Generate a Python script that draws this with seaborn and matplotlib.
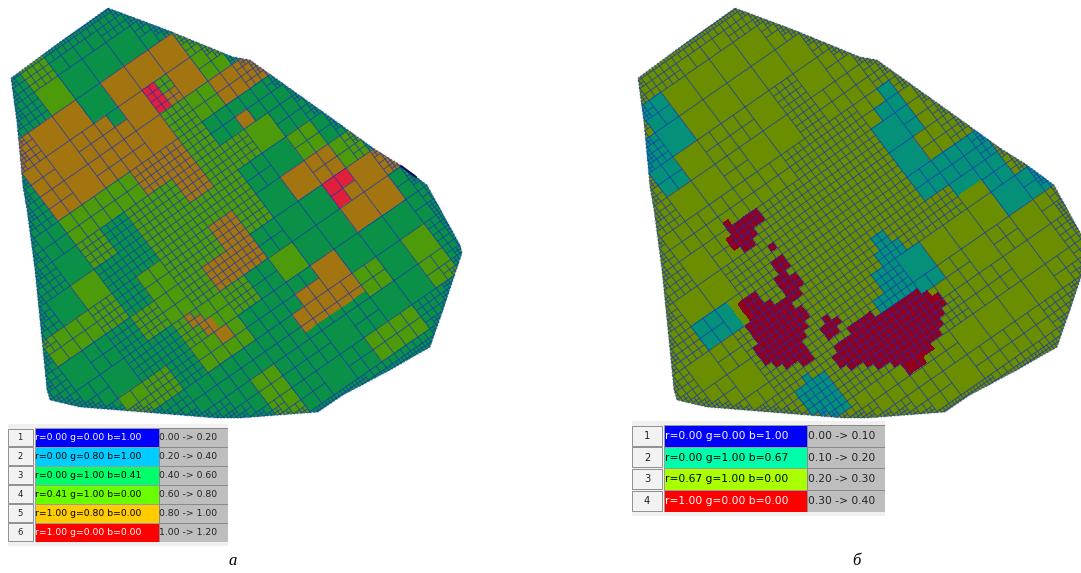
import numpy as np
import pandas as pd
import seaborn as sns
import matplotlib
matplotlib.use('Agg')
import matplotlib.pyplot as plt
from matplotlib.collections import LineCollection
from matplotlib.colors import ListedColormap
from matplotlib.patches import Polygon, Rectangle
from matplotlib.path import Path
from matplotlib.transforms import Affine2D

# Outline of the model area, picture pixels of the left panel
outline_x = [11, 60, 108, 167, 233, 250, 330, 373, 400, 427, 460, 462, 443, 430, 390, 343, 318, 240, 217, 80, 50, 47, 35, 27, 23, 17]
outline_y = [78, 42, 8, 30, 57, 60, 117, 148, 165, 185, 245, 253, 310, 347, 370, 395, 412, 418, 418, 407, 400, 390, 270, 210, 187, 123]
panel_shift = 627

# Root cells: columns run a = -8..6, rows b = -2..13, digit = legend class
classes_a = ["333333433333333", "333333433333333", "333355535554333", "333355555554333",
             "333355555445533", "333344455433333", "333343445444333", "333433444433433",
             "344434445435543", "333344455333555", "333334443433553", "334434433353333",
             "333333333334343", "333333433333343", "333333433344333", "333333333333333"]
classes_b = ["333333333333333", "333332333333333", "333322333333333", "333323333333333",
             "333333333333333", "333333333333333", "333333333332333", "333333333332333",
             "332333333332223", "333333333333323", "333333333233322", "333333332333333",
             "333333333333333", "333333333333333", "333333333333333", "333333333333333"]

# Root cells again, digit = how many times the cell is halved
depth_a = ["000002211200000", "000022000012000", "000220000002200", "000210110201200",
           "000210110211220", "002111122211120", "002022222220120", "020022222210112",
           "011221222200112", "201221222100102", "200222121000001", "021221111100001",
           "002211111111002", "000221111010012", "000022110111220", "000002222222000"]
depth_b = ["000002211200000", "000021000012000", "000220000001200", "000210110201200",
           "000200100211220", "002111112221120", "002012222220120", "020022222220120",
           "021022222221110", "201222222222012", "200222222000001", "021222222110101",
           "002222222211002", "000221111000012", "000022110111220", "000002222222000"]

# Patches on the quarter-cell grid: (row, first column, last column, class)
patches_a = [(4, 4, 5, 6), (5, 4, 5, 6), (6, 4, 5, 6), (7, 4, 5, 6), (4, 6, 7, 4), (5, 6, 7, 4),
             (4, -2, -1, 3), (5, -2, -1, 3),
             (28, 16, 19, 6), (29, 16, 19, 6), (30, 16, 17, 6), (31, 16, 17, 6),
             (32, -10, -10, 5), (33, -10, -9, 5), (34, -9, -8, 5), (35, -9, -8, 5), (36, -8, -7, 5), (37, -8, -7, 5),
             (14, 12, 13, 5), (15, 12, 13, 5),
             (38, 4, 7, 5), (39, 4, 7, 5), (40, 2, 11, 5), (41, 2, 11, 5), (42, 2, 11, 5)]
patches_b = [(14, 14, 15, 2), (15, 14, 15, 2), (12, 16, 17, 2), (13, 16, 17, 2), (14, 16, 17, 2), (15, 16, 17, 2),
             (16, 16, 17, 2), (17, 16, 17, 2), (18, 16, 17, 2), (19, 16, 17, 2),
             (28, 16, 19, 2), (29, 16, 19, 2), (36, 4, 7, 2), (37, 4, 7, 2),
             (32, 0, 3, 2), (33, 0, 3, 2), (34, 0, 3, 2), (35, 0, 3, 2),
             (30, 2, 5, 2), (31, 2, 5, 2), (28, 3, 4, 2), (29, 3, 4, 2),
             (35, -2, -1, 2), (36, -2, 0, 2),
             (24, -20, -19, 2), (25, -20, -19, 2), (26, -20, -19, 2), (27, -20, -19, 2),
             (38, -16, -16, 2), (39, -18, -14, 2), (40, -18, -14, 2), (41, -18, -14, 2), (42, -18, -14, 2), (43, -17, -14, 2), (44, -16, -14, 2),
             # dark red spots
             (15, -12, -12, 4), (16, -12, -8, 4), (17, -13, -8, 4), (18, -13, -10, 4), (19, -12, -11, 4),
             (21, -9, -9, 4),
             (23, -10, -9, 4), (24, -10, -9, 4), (25, -11, -10, 4), (26, -11, -9, 4), (27, -11, -9, 4), (28, -12, -10, 4),
             (25, -17, -15, 4), (26, -17, -15, 4), (27, -17, -14, 4), (28, -18, -13, 4), (29, -18, -12, 4), (30, -18, -11, 4),
             (31, -19, -11, 4), (32, -19, -12, 4), (33, -19, -13, 4), (34, -18, -14, 4), (35, -17, -14, 4), (36, -15, -14, 4),
             (33, -9, -9, 4), (34, -10, -8, 4), (35, -10, -9, 4),
             (36, -7, -4, 4), (37, -10, 3, 4), (38, -11, 4, 4), (39, -11, 5, 4), (40, -10, 5, 4), (41, -8, 4, 4),
             (42, -7, 3, 4), (43, -5, 2, 4), (44, -4, 0, 4), (45, -4, -2, 4)]

# Mesh colours as they show in the two panels, indexed by legend class
palette_a = ['#0b9147', '#0b9147', '#0b9147', '#0b9147', '#4d9a0b', '#a37510', '#e0203a']
palette_b = ['#6b8e00', '#6b8e00', '#05907a', '#6b8e00', '#900020']

# Legend tables
legend_a = ["r=0.00 g=0.00 b=1.00", "r=0.00 g=0.80 b=1.00", "r=0.00 g=1.00 b=0.41",
            "r=0.41 g=1.00 b=0.00", "r=1.00 g=0.80 b=0.00", "r=1.00 g=0.00 b=0.00"]
ranges_a = ["0.00 -> 0.20", "0.20 -> 0.40", "0.40 -> 0.60", "0.60 -> 0.80", "0.80 -> 1.00", "1.00 -> 1.20"]
swatch_a = ['#0000ff', '#00ccff', '#00ff69', '#69ff00', '#ffcc00', '#ff0000']
legend_b = ["r=0.00 g=0.00 b=1.00", "r=0.00 g=1.00 b=0.67", "r=0.67 g=1.00 b=0.00", "r=1.00 g=0.00 b=0.00"]
ranges_b = ["0.00 -> 0.10", "0.10 -> 0.20", "0.20 -> 0.30", "0.30 -> 0.40"]
swatch_b = ['#0000ff', '#00ffaa', '#aaff00', '#ff0000']

W, H = 1081, 573
# Grid vectors of one root cell in pixels, the picture is a bit stretched
ux, uy = 24.0, -16.6
vx, vy = 18.0, 24.0
ox, oy = 100.0, 83.0
a_min, b_min = -8, -2

sns.set_theme(style='white')
fig = plt.figure(figsize=(W / 100, H / 100), dpi=100)
ax = fig.add_axes([0, 0, 1, 1])


def fine_matrix(classes, patches):
    # Expand root cells to the quarter-cell grid and lay the patches over them
    mat = np.repeat(np.repeat(np.array([[int(c) for c in row] for row in classes]), 4, axis=0), 4, axis=1)
    for row, first, last, cat in patches:
        mat[row - b_min * 4, first - a_min * 4:last - a_min * 4 + 1] = cat
    return mat


def outline_dist(px, py, xs, ys):
    x0, y0 = np.array(xs), np.array(ys)
    x1, y1 = np.roll(x0, -1), np.roll(y0, -1)
    dx, dy = x1 - x0, y1 - y0
    t = np.clip(((px - x0) * dx + (py - y0) * dy) / (dx * dx + dy * dy), 0, 1)
    return np.hypot(x0 + t * dx - px, y0 + t * dy - py).min()


def mesh_lines(depth, xs, ys, shift):
    # Walk the quadtree, cells get smaller towards the outline of the area
    path = Path(np.column_stack([xs, ys]))
    segs = []

    def corner(a, b):
        return (ox + shift + a * ux + b * vx, oy + a * uy + b * vy)

    def visit(a, b, size, level, want):
        cx, cy = corner(a + size / 2, b + size / 2)
        dist = outline_dist(cx, cy, xs, ys)
        px_size = 29.6 * size
        inside = path.contains_point((cx, cy))
        if not inside and dist > px_size * 0.8:
            return
        if level < want or (dist < px_size * 0.62 and level < 3):
            half = size / 2
            for da in (0, half):
                for db in (0, half):
                    visit(a + da, b + db, half, level + 1, want)
            return
        p = [corner(a, b), corner(a + size, b), corner(a + size, b + size), corner(a, b + size)]
        segs.append([p[0], p[1], p[2], p[3], p[0]])

    for r, row in enumerate(depth):
        for c, d in enumerate(row):
            visit(a_min + c, b_min + r, 1.0, 0, int(d))
    return segs


def draw_panel(classes, patches, palette, depth, shift):
    xs = [x + shift for x in outline_x]
    ys = outline_y
    clip = Polygon(np.column_stack([xs, ys]), closed=True, transform=ax.transData)
    mat = fine_matrix(classes, patches)
    frame = pd.DataFrame(mat)
    sns.heatmap(frame, ax=ax, cmap=ListedColormap(palette), vmin=-0.5, vmax=len(palette) - 0.5,
                cbar=False, xticklabels=False, yticklabels=False)
    mesh = ax.collections[-1]
    x0 = ox + shift + a_min * ux + b_min * vx
    y0 = oy + a_min * uy + b_min * vy
    grid = Affine2D(np.array([[ux / 4, vx / 4, x0], [uy / 4, vy / 4, y0], [0, 0, 1]]))
    mesh.set_transform(grid + ax.transData)
    mesh.set_clip_path(clip)
    lines = LineCollection(mesh_lines(depth, xs, ys, shift), colors=[(0.08, 0.2, 0.72, 0.5)], linewidths=0.55)
    ax.add_collection(lines)
    lines.set_clip_path(clip)
    ax.plot(xs + xs[:1], ys + ys[:1], color=(0.1, 0.15, 0.75, 0.35), lw=1.2, ls=(0, (1, 1)))


def px_axes(x0, y0, x1, y1):
    return fig.add_axes([x0 / W, 1 - y1 / H, (x1 - x0) / W, (y1 - y0) / H])


def draw_table(labels, ranges, swatch, x_btn, x_col, x_grey, x_end, y_top, y_end, strip, fsize):
    n = len(labels)
    # Light grey grid background of the screenshot
    ax.add_patch(Rectangle((x_btn, y_top - 4), x_end - x_btn, strip - y_top + 4, color='#f0f0f0', lw=0))
    row_h = (y_end - y_top) / n
    ax_col = px_axes(x_col, y_top, x_grey, y_end)
    sns.heatmap(pd.DataFrame({'c': list(range(n))}), ax=ax_col, cmap=ListedColormap(swatch), cbar=False,
                vmin=-0.5, vmax=n - 0.5, xticklabels=False, yticklabels=False, linewidths=0.6, linecolor='#9a9a9a')
    ax_col.axis('off')
    ax_grey = px_axes(x_grey, y_top, x_end, y_end)
    sns.heatmap(pd.DataFrame({'c': [0] * n}), ax=ax_grey, cmap=ListedColormap(['#bebebe']), cbar=False,
                xticklabels=False, yticklabels=False, linewidths=0.6, linecolor='#8a8a8a')
    ax_grey.axis('off')
    for i in range(n):
        y = y_top + row_h * i
        txt = 'white' if swatch[i] in ('#0000ff', '#ff0000') else 'black'
        ax_col.text(0.004, i + 0.5, labels[i], color=txt, fontsize=fsize, ha='left', va='center')
        ax_grey.text(0.01, i + 0.5, ranges[i], color='#222222', fontsize=fsize, ha='left', va='center')
        ax.add_patch(Rectangle((x_btn, y + 0.5), x_col - x_btn - 2, row_h - 1.5, fc='#f2f2f2', ec='#8f8f8f', lw=0.7))
        ax.text((x_btn + x_col - 2) / 2, y + row_h / 2, str(i + 1), color='#222222', fontsize=fsize - 0.6,
                ha='center', va='center')


draw_panel(classes_a, patches_a, palette_a, depth_a, 0)
draw_panel(classes_b, patches_b, palette_b, depth_b, panel_shift)

# Dark nick on the outline of the left panel
ax.plot([401, 416], [166, 177], color='#0a0a60', lw=1.5)

ax.set_xlim(0, W)
ax.set_ylim(H, 0)
ax.axis('off')

draw_table(legend_a, ranges_a, swatch_a, 8, 34.5, 158.5, 228, 428, 541.5, 546, 6.7)
draw_table(legend_b, ranges_b, swatch_b, 632, 664, 807, 885, 425, 511.7, 516, 7.7)

ax.text(233, 561, 'а', fontsize=12, style='italic', family='Liberation Serif', ha='center', va='center', color='black')
ax.text(856, 561, 'б', fontsize=12, style='italic', family='Liberation Serif', ha='center', va='center', color='black')

fig.savefig('out.png', dpi=100)
